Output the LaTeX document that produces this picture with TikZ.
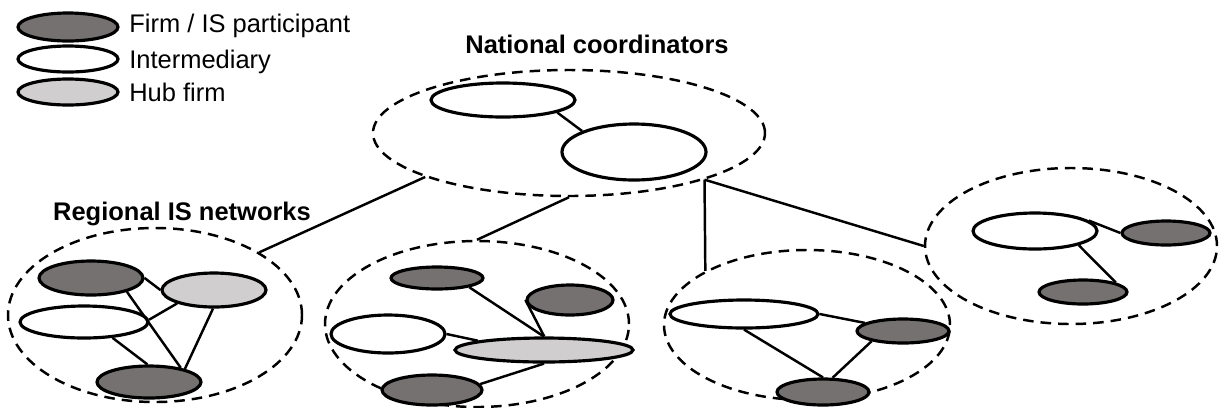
\documentclass[tikz,border=0pt]{standalone}
\usepackage{fontspec}
\setmainfont{Liberation Sans}
\usetikzlibrary{shapes.geometric}
\definecolor{firmgray}{RGB}{118,113,113}
\definecolor{hubgray}{RGB}{208,206,206}

\begin{document}
\begin{tikzpicture}[x=0.02cm,y=-0.02cm,
  every node/.style={inner sep=0pt,font=\fontsize{14.5}{17}\selectfont},
  oval/.style 2 args={ellipse,draw,line width=1.8pt,minimum width={2*#1*0.02cm},minimum height={2*#2*0.02cm}},
  firm/.style 2 args={oval={#1}{#2},fill=firmgray},
  inter/.style 2 args={oval={#1}{#2},fill=white},
  hub/.style 2 args={oval={#1}{#2},fill=hubgray},
  region/.style 2 args={ellipse,draw,line width=1.4pt,dash pattern=on 6pt off 4pt,minimum width={2*#1*0.02cm},minimum height={2*#2*0.02cm}},
  link/.style={line width=1.4pt}]
  \useasboundingbox (0,0) rectangle (1220,407);

  % legend
  \node[firm={50}{14}] (lf) at (68,27) {};
  \node[inter={50}{13}] (li) at (68,59) {};
  \node[hub={50}{13}] (lh) at (68,92) {};
  \node[anchor=base west] (tf) at (129,32) {Firm / IS participant};
  \node[anchor=base west] (ti) at (129,68) {Intermediary};
  \node[anchor=base west] (th) at (129,101) {Hub firm};

  % national level
  \node[anchor=base] (tnat) at (597,53) {\bfseries National coordinators};
  \node[region={196}{63}] (nat) at (569,133) {};
  \node[inter={72}{17}] (n1) at (503,100) {};
  \node[inter={72}{28}] (n2) at (634,152) {};
  \draw[link] (n1.347) -- (n2.158);

  % regional level
  \node[anchor=base] (treg) at (182,220) {\bfseries Regional IS networks};
  \node[region={147}{87}] (r1) at (155,315) {};
  \node[region={152}{83}] (r2) at (477,324) {};
  \node[region={143}{75}] (r3) at (807,325) {};
  \node[region={146}{78}] (r4) at (1071,246) {};

  \draw[link] (nat.197.6) -- (r1.31.5);
  \draw[link] (nat.270) -- (r2.90);
  \draw[link] (nat.341.9) -- (r3.152.1);
  \draw[link] (nat.341.9) -- (r4.180);

  % region 1
  \node[firm={52}{17}] (a1) at (91,278) {};
  \node[hub={52}{17}] (h1) at (214,290) {};
  \node[inter={64}{16}] (w1) at (84,322) {};
  \node[firm={52}{16}] (b1) at (149,382) {};
  \draw[link] (a1.0) -- (h1.180);
  \draw[link] (a1.339) -- (b1.24);
  \draw[link] (w1.2) -- (h1.200);
  \draw[link] (w1.331) -- (b1.95);
  \draw[link] (h1.267) -- (b1.20);

  % region 2
  \node[firm={46}{11}] (a2) at (437,278) {};
  \node[firm={43}{15}] (c2) at (570,300) {};
  \node[inter={57}{19}] (w2) at (388,334) {};
  \node[hub={89}{12}] (h2) at (544,350) {};
  \node[firm={50}{15}] (b2) at (432,390) {};
  \draw[link] (a2.344) -- (h2.91);
  \draw[link] (c2.180) -- (h2.89);
  \draw[link] (w2.0) -- (h2.172.6);
  \draw[link] (h2.270) -- (b2.7);

  % region 3
  \node[inter={74}{14}] (w3) at (744,314) {};
  \node[firm={46}{12}] (c3) at (903,331) {};
  \node[firm={46}{13}] (b3) at (823,392) {};
  \draw[link] (w3.0) -- (c3.168.7);
  \draw[link] (w3.270) -- (b3.90);
  \draw[link] (c3.198.4) -- (b3.56.3);

  % region 4
  \node[inter={62}{18}] (w4) at (1035,231) {};
  \node[firm={44}{12}] (c4) at (1166,233) {};
  \node[firm={44}{12}] (b4) at (1083,292) {};
  \draw[link] (w4.11.3) -- (c4.180);
  \draw[link] (w4.342) -- (b4.16.7);
\end{tikzpicture}
\end{document}
